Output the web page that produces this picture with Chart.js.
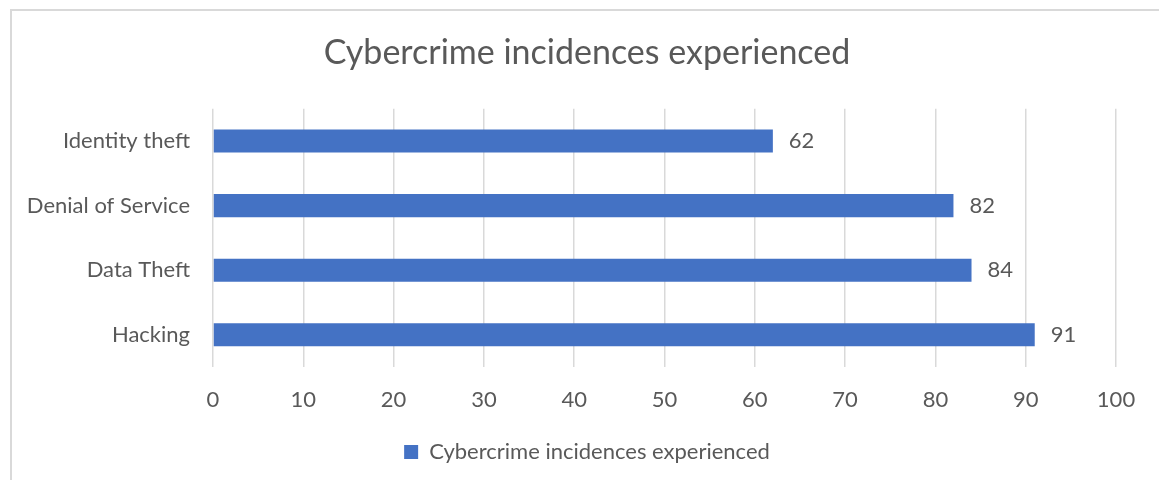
<!DOCTYPE html>
<html>
<head>
<meta charset="utf-8">
<script src="https://cdn.jsdelivr.net/npm/chart.js@4.4.1/dist/chart.umd.min.js"></script>
<style>
  html, body { margin: 0; padding: 0; background: #ffffff; overflow: hidden; }
  #frame {
    position: absolute; left: 10px; top: 9px; width: 1200px; height: 500px;
    border-top: 2px solid #d9d9d9; border-left: 2px solid #d9d9d9;
  }
  #wrap { position: absolute; left: 0; top: 0; width: 1159px; height: 480px; }
</style>
</head>
<body>
<div id="frame"></div>
<div id="wrap"><canvas id="chart"></canvas></div>
<script>
// chart data
const categories = ["Identity theft", "Denial of Service", "Data Theft", "Hacking"];
const incidences = [62, 82, 84, 91];
const seriesName = "Cybercrime incidences experienced";
const chartTitle = "Cybercrime incidences experienced";
const xTicks = [0, 10, 20, 30, 40, 50, 60, 70, 80, 90, 100];

const textColor = "#595959";
const fontFamily = "Lato, 'Open Sans', sans-serif";

// draws the value just to the right of each bar
const valueLabels = {
  id: "valueLabels",
  afterDatasetsDraw(chart) {
    const ctx = chart.ctx;
    const meta = chart.getDatasetMeta(0);
    ctx.save();
    ctx.font = "22px " + fontFamily;
    ctx.fillStyle = textColor;
    ctx.textAlign = "left";
    ctx.textBaseline = "middle";
    meta.data.forEach((bar, i) => {
      ctx.fillText(String(incidences[i]), bar.x + 16, bar.y);
    });
    ctx.restore();
  }
};

const ctx = document.getElementById("chart").getContext("2d");
new Chart(ctx, {
  type: "bar",
  data: {
    labels: categories,
    datasets: [{
      label: seriesName,
      data: incidences,
      backgroundColor: "#4472C4",
      borderWidth: 0,
      categoryPercentage: 1,
      barPercentage: 0.357
    }]
  },
  options: {
    indexAxis: "y",
    responsive: true,
    maintainAspectRatio: false,
    animation: false,
    layout: { padding: { left: 15, right: 0, top: 0, bottom: 7 } },
    plugins: {
      title: {
        display: true,
        text: chartTitle,
        color: textColor,
        font: { family: fontFamily, size: 34, weight: "normal" },
        padding: { top: 33, bottom: 35 }
      },
      legend: {
        position: "bottom",
        labels: {
          color: textColor,
          font: { family: fontFamily, size: 22 },
          boxWidth: 14,
          boxHeight: 14,
          padding: 10
        }
      },
      tooltip: { enabled: false }
    },
    scales: {
      x: {
        min: 0,
        max: 100,
        afterBuildTicks: (scale) => { scale.ticks = xTicks.map(v => ({ value: v })); },
        afterFit: (scale) => { scale.height = 64; },
        grid: { color: "#d9d9d9", lineWidth: 1.5, drawTicks: false },
        border: { display: false },
        ticks: {
          color: textColor,
          font: { family: fontFamily, size: 22 },
          padding: 20
        }
      },
      y: {
        afterFit: (scale) => { scale.width = 198; },
        grid: { display: false, drawTicks: false },
        border: { display: false },
        ticks: {
          color: textColor,
          font: { family: fontFamily, size: 22 },
          padding: 23
        }
      },
      // empty right-hand axis, only reserves space so the plot ends where the reference does
      yRight: {
        type: "category",
        position: "right",
        afterFit: (scale) => { scale.width = 43; },
        grid: { display: false, drawTicks: false },
        border: { display: false },
        ticks: { display: false }
      }
    }
  },
  plugins: [valueLabels]
});
</script>
</body>
</html>
